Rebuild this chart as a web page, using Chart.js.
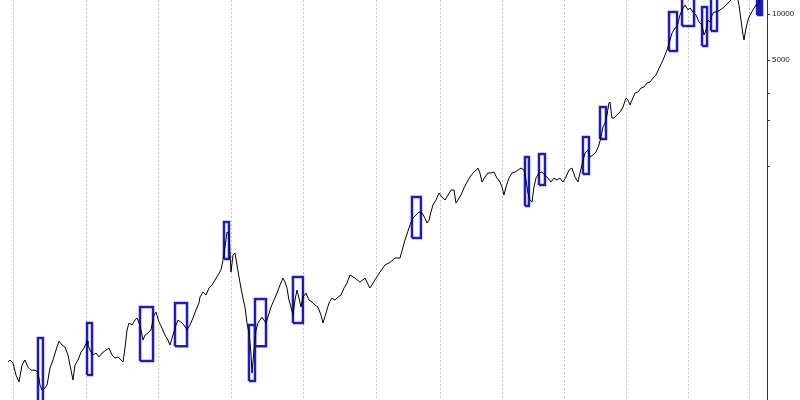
<!DOCTYPE html>
<html>
<head>
<meta charset="utf-8">
<script src="https://cdn.jsdelivr.net/npm/chart.js@4"></script>
<style>
  html, body { margin:0; padding:0; background:#fff; }
  #wrap { width:800px; height:400px; position:relative; }
</style>
</head>
<body>
<div id="wrap"><canvas id="c"></canvas></div>
<script>
/* Dow, log scale, daily-ish close */
const years = [
  1899.17,1899.45,1899.86,1900.28,1900.69,1901.11,1901.52,1901.93,1902.35,1902.90,
  1903.31,1903.59,1903.87,1904.14,1904.56,1904.97,1905.38,1905.80,1906.21,1906.63,
  1907.04,1907.45,1907.87,1908.14,1908.42,1908.83,1909.25,1909.66,1910.08,1910.21,
  1910.49,1910.90,1911.32,1911.73,1912.15,1912.70,1913.11,1913.53,1913.94,1914.35,
  1914.77,1915.05,1915.32,1915.60,1915.87,1916.29,1916.70,1916.98,1917.39,1917.81,
  1918.08,1918.50,1918.91,1919.32,1919.60,1920.01,1920.43,1920.84,1921.25,1921.53,
  1921.94,1922.36,1922.63,1923.05,1923.46,1923.88,1924.29,1924.70,1925.12,1925.53,
  1925.67,1926.08,1926.50,1926.91,1927.33,1927.74,1928.15,1928.57,1928.85,1929.12,
  1929.40,1929.67,1929.95,1930.23,1930.50,1930.78,1931.05,1931.33,1931.60,1931.88,
  1932.16,1932.43,1932.71,1932.85,1933.12,1933.40,1933.67,1933.95,1934.23,1934.50,
  1934.78,1935.05,1935.47,1935.88,1936.30,1936.71,1937.12,1937.40,1937.68,1937.95,
  1938.23,1938.50,1938.78,1939.06,1939.33,1939.61,1939.88,1940.30,1940.71,1941.13,
  1941.54,1941.95,1942.37,1942.64,1943.06,1943.47,1943.88,1944.30,1944.71,1945.13,
  1945.54,1945.96,1946.37,1947.06,1947.75,1948.44,1949.13,1949.82,1950.51,1951.20,
  1951.89,1952.68,1953.49,1954.29,1955.10,1955.58,1956.07,1956.55,1957.04,1957.52,
  1957.85,1958.17,1958.49,1958.81,1959.30,1959.78,1960.27,1960.75,1961.24,1961.72,
  1962.21,1962.53,1962.85,1963.34,1963.82,1964.31,1964.79,1965.27,1965.76,1966.08,
  1966.40,1966.73,1967.21,1967.69,1968.18,1968.66,1969.15,1969.63,1969.96,1970.28,
  1970.60,1971.09,1971.57,1972.06,1972.54,1973.03,1973.51,1973.83,1974.15,1974.48,
  1974.80,1975.12,1975.45,1975.93,1976.41,1976.90,1977.38,1977.87,1978.35,1978.84,
  1979.32,1979.80,1980.29,1980.77,1981.26,1981.74,1982.22,1982.55,1982.87,1983.36,
  1983.84,1984.17,1984.65,1985.13,1985.62,1985.94,1986.27,1986.59,1986.91,1987.23,
  1987.40,1987.72,1988.04,1988.53,1989.01,1989.50,1989.98,1990.30,1990.63,1990.95,
  1991.44,1991.92,1992.40,1992.89,1993.37,1993.86,1994.34,1994.83,1995.31,1995.96,
  1996.28,1996.60,1997.09,1997.41,1997.90,1998.22,1998.70,1999.19,1999.51,2000.00,
  2000.32,2000.80,2001.29,2001.77,2002.26,2002.58,2002.91,2003.23,2003.55,2003.87,
  2004.20,2004.68,2005.17,2005.65,2006.13,2006.62,2006.94,2007.43,2007.91,2008.23,
  2008.55,2008.88,2009.04,2009.36,2009.68,2010.01,2010.49,2010.97,2011.30,2011.62
];
const closes = [
  52.8,54.4,52.0,43.4,39.1,50.4,54.4,48.9,46.7,46.7,
  45.4,37.3,34.6,35.1,37.3,48.2,54.4,63.2,72.5,68.2,
  66.2,58.7,46.7,40.3,50.4,54.4,61.3,65.1,72.5,68.2,
  63.2,58.7,60.4,57.0,60.4,63.2,65.1,58.7,56.1,57.0,
  54.4,52.8,65.1,85.5,95.0,92.2,99.3,102.4,92.2,73.5,
  79.3,81.7,85.5,107.2,112.1,96.4,88.1,79.3,73.5,68.2,
  79.3,92.2,99.3,96.4,92.2,85.5,92.2,102.4,115.5,128.4,
  140.6,151.5,144.9,160.9,168.4,181.6,195.9,211.1,245.4,298.8,
  373.9,368.4,204.8,264.8,272.9,227.7,190.2,160.9,138.4,120.9,
  95.0,81.7,60.4,44.7,63.2,85.5,95.0,99.3,104.0,99.3,
  95.0,104.0,120.9,134.3,149.3,168.4,187.2,176.2,160.9,134.3,
  120.9,107.2,134.3,156.1,138.4,120.9,140.6,149.3,134.3,130.3,
  124.6,120.9,107.2,95.0,110.4,128.4,138.4,134.3,140.6,144.9,
  160.9,173.6,195.9,187,176,187,161,182,205,228,
  237,253,253,331,416,462,484,506,499,462,
  429,448,506,562,606,674,635,606,654,705,
  705,580,606,654,727,795,858,911,952,982,
  911,795,858,911,911,924,844,795,738,654,
  738,844,911,924,952,982,952,819,674,606,
  588,738,844,911,924,883,844,795,844,819,
  844,795,858,952,982,858,795,911,1027,1231,
  1287,1160,1195,1249,1389,1567,1822,1935,2183,2615,
  2654,2085,2085,2183,2282,2463,2818,2734,2537,2734,
  3041,3086,3278,3330,3535,3587,3810,3988,4400,4997,
  5391,5810,6754,7510,8095,8224,9850,10953,11455,10627,
  10953,10309,9850,8860,8473,7287,7854,9130,8860,9850,
  10309,10309,10627,10953,11455,11990,12350,14000,13200,11455,
  9130,7287,6754,8095,9130,9850,10627,11455,11455,12350
];

/* highlighted episodes: start year, end year, low, high */
const boxStart = [1903.31,1910.08,1917.39,1922.22,1928.98,1932.43,1933.26,1938.50,1955.42,1973.67,1975.93,1983.03,1985.78,1996.93,1999.03,2002.26,2003.71,2011.14];
const boxEnd   = [1904.00,1910.77,1919.19,1923.88,1929.67,1933.26,1934.78,1939.88,1956.87,1974.31,1976.90,1984.00,1986.75,1998.22,2000.97,2003.07,2004.68,2011.94];
const boxLow   = [27,43.4,53.6,67.1,249,39.7,67.1,95.0,341.6,553.9,760,897,1519,5728,8344,6173,7742,9850];
const boxHigh  = [75.8,95.0,120.9,128.4,435,92.2,136.4,190.2,634.8,1160,1213,1567,2463,10309,13500,11111,13500,13500];
const boxFilled = [false,false,false,false,false,false,false,false,false,false,false,false,false,false,false,false,false,true];

const gridYears = [1900,1910,1920,1930,1940,1950,1960,1970,1980,1990,2000,2010];
const yTicks  = [1000,2000,3000,5000,10000];
const yLabels = ['','','','5000','10000'];

/* before 1952 the market traded six days a week, so older years take more room */
const SAT_WEIGHT = 1.17;
const tt = y => y < 1952 ? (y - 1952) * SAT_WEIGHT : y - 1952;

const BLUE = '#1c1cc4';

const datasets = [{
  data: years.map((y,i) => ({x: tt(y), y: closes[i]})),
  borderColor:'#000', borderWidth:1, pointRadius:0, tension:0, order:0
}];
boxStart.forEach((s,i) => {
  const e = boxEnd[i], lo = boxLow[i], hi = boxHigh[i];
  datasets.push({
    data:[{x:tt(s),y:lo},{x:tt(s),y:hi},{x:tt(e),y:hi},{x:tt(e),y:lo},{x:tt(s),y:lo}],
    borderColor:BLUE, borderWidth:2.5, pointRadius:0, tension:0,
    borderJoinStyle:'miter',
    fill: boxFilled[i] ? 'shape' : false,
    backgroundColor: BLUE, order:1
  });
});

new Chart(document.getElementById('c'), {
  type:'line',
  data:{ datasets },
  options:{
    responsive:true, maintainAspectRatio:false, animation:false,
    layout:{ padding:0 },
    plugins:{ legend:{display:false}, tooltip:{enabled:false} },
    scales:{
      x:{
        type:'linear', min: tt(1898.07), max: tt(2012.75),
        afterBuildTicks: a => { a.ticks = gridYears.map(y => ({value: tt(y)})); },
        afterFit: s => { s.height = 0; s.paddingLeft = 0; s.paddingRight = 0; },
        ticks:{ display:false },
        grid:{ color:'#c4c4c4', lineWidth:1, drawTicks:false },
        border:{ display:false, dash:[2,2] }
      },
      y:{
        type:'logarithmic', position:'right', min:29.8, max:12350,
        afterBuildTicks: a => { a.ticks = yTicks.map(v => ({value:v})); },
        afterFit: s => { s.width = 33; s.paddingTop = 0; s.paddingBottom = 0; },
        grid:{ drawOnChartArea:false, drawTicks:true, tickLength:3, color:'#333' },
        border:{ display:true, color:'#333', width:1 },
        ticks:{
          padding:2, color:'#222',
          font:{ family:'"Liberation Sans", Arial, sans-serif', size:8 },
          callback: (v, i) => yLabels[i]
        }
      }
    }
  }
});
</script>
</body>
</html>
